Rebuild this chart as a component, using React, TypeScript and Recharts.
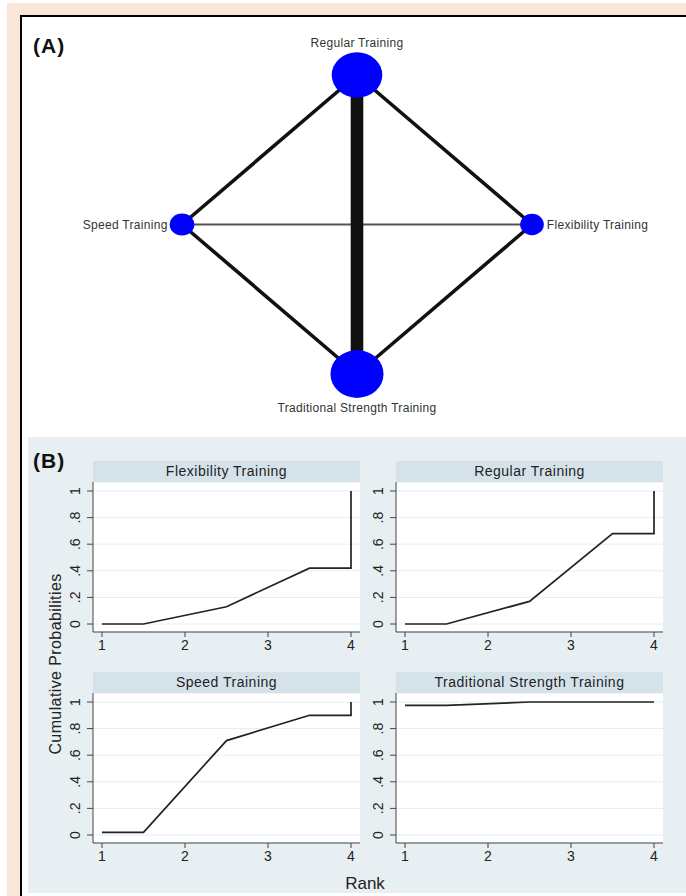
import React from "react";
import { ScatterChart, Scatter, XAxis, YAxis, LineChart, Line, CartesianGrid } from "recharts";

// ---- network (panel A) ----
const nodeNames = ["Regular Training", "Speed Training", "Flexibility Training", "Traditional Strength Training"];
const nodeX = [0, -1, 1, 0];
const nodeY = [1, 0, 0, -1];
const nodeParticipants = [160, 38, 35, 176];

// edges: index into nodeNames, number of studies
const edgeFrom = [1, 0, 0, 1, 2, 0];
const edgeTo = [2, 1, 2, 3, 3, 3];
const edgeStudies = [1, 2, 2, 2, 2, 7];

// ---- rankograms (panel B) ----
const rankPoints = [1, 1.5, 2.5, 3.5, 4, 4];
const flexibility = [0, 0, 0.13, 0.42, 0.42, 1];
const regular = [0, 0, 0.17, 0.68, 0.68, 1];
const speed = [0.02, 0.02, 0.71, 0.9, 0.9, 1];
const traditional = [0.975, 0.975, 1, 1, 1, 1];
const xTicks = [1, 2, 3, 4];
const yTicks = [0, 0.2, 0.4, 0.6, 0.8, 1];

const FONT = "'Liberation Sans', Arial, sans-serif";

const labelSide: Record<string, string> = {
  "Regular Training": "top",
  "Speed Training": "left",
  "Flexibility Training": "right",
  "Traditional Strength Training": "bottom",
};

const nodes = nodeNames.map((name, i) => ({ name, x: nodeX[i], y: nodeY[i], n: nodeParticipants[i] }));

const NodeShape = (props: any) => {
  const { cx, cy, payload } = props;
  const r = Math.sqrt(payload.n) * 2;
  const ry = r * 0.9;
  const side = labelSide[payload.name];
  let label = null;
  const txt = { fontSize: 12, fill: "#333", fontFamily: FONT, letterSpacing: 0.3 };
  if (side === "top") label = <text x={cx} y={cy - ry - 5} textAnchor="middle" {...txt}>{payload.name}</text>;
  if (side === "bottom") label = <text x={cx} y={cy + ry + 14} textAnchor="middle" {...txt}>{payload.name}</text>;
  if (side === "left") label = <text x={cx - r - 2} y={cy + 4} textAnchor="end" {...txt}>{payload.name}</text>;
  if (side === "right") label = <text x={cx + r + 3} y={cy + 4} textAnchor="start" {...txt}>{payload.name}</text>;
  return (
    <g>
      <ellipse cx={cx} cy={cy} rx={r} ry={ry} fill="#0000ff" />
      {label}
    </g>
  );
};

const NetworkPlot = () => (
  <ScatterChart width={686} height={432} margin={{ top: 75, right: 154, bottom: 58, left: 182 }}>
    <XAxis type="number" dataKey="x" domain={[-1, 1]} hide height={0} />
    <YAxis type="number" dataKey="y" domain={[-1, 1]} hide width={0} />
    {edgeFrom.map((f, i) => (
      <Scatter
        key={`edge-${i}`}
        data={[nodes[f], nodes[edgeTo[i]]]}
        line={{ stroke: edgeStudies[i] === 1 ? "#555" : "#111", strokeWidth: edgeStudies[i] * 1.8 }}
        shape={() => <g />}
        isAnimationActive={false}
      />
    ))}
    <Scatter data={nodes} shape={NodeShape} isAnimationActive={false} />
  </ScatterChart>
);

const fmtY = (v: number) => (v === 0 ? "0" : v === 1 ? "1" : String(v.toFixed(1)).replace(/^0/, ""));

const YTick = (props: any) => {
  const { x, y, payload } = props;
  const bx = x - 5;
  return (
    <text x={bx} y={y} transform={`rotate(-90 ${bx} ${y})`} textAnchor="middle" fontSize={14} fill="#222" fontFamily={FONT}>
      {fmtY(payload.value)}
    </text>
  );
};

const Rankogram = ({ title, values, left, top }: { title: string; values: number[]; left: number; top: number }) => {
  const data = rankPoints.map((r, i) => ({ rank: r, p: values[i] }));
  return (
    <>
      <div
        style={{
          position: "absolute", left: left + 33, top: top - 21, width: 267, height: 21,
          background: "#d6e2ea", color: "#222", fontFamily: FONT, fontSize: 14, letterSpacing: 0.5,
          textAlign: "center", lineHeight: "21px",
        }}
      >
        {title}
      </div>
      <div style={{ position: "absolute", left, top }}>
        <LineChart width={300} height={180} data={data} margin={{ top: 0, right: 0, bottom: 0, left: 0 }}>
          <CartesianGrid vertical={false} stroke="#e6eef1" fill="#ffffff" />
          <XAxis
            type="number" dataKey="rank" domain={[1, 4]} ticks={xTicks} height={30}
            padding={{ left: 9, right: 9 }} tickSize={5} tickMargin={3}
            stroke="#444" tick={{ fontSize: 14, fill: "#222", fontFamily: FONT }}
          />
          <YAxis
            type="number" domain={[0, 1]} ticks={yTicks} width={33}
            padding={{ top: 9, bottom: 8 }} tickSize={6} tick={<YTick />} stroke="#444"
          />
          <Line type="linear" dataKey="p" stroke="#222" strokeWidth={1.7} dot={false} isAnimationActive={false} />
        </LineChart>
      </div>
    </>
  );
};

export default function App() {
  return (
    <div style={{ position: "absolute", left: 0, top: 0, width: 686, height: 896, background: "#fff", overflow: "hidden" }}>
      <div style={{ position: "absolute", left: 7, top: 3, width: 679, height: 893, background: "#fbe7d9" }} />
      <div
        style={{
          position: "absolute", left: 20, top: 15, width: 666, height: 881, background: "#fff",
          borderLeft: "2px solid #000", borderTop: "2px solid #000", boxSizing: "border-box",
        }}
      />
      <div style={{ position: "absolute", left: 33, top: 34, fontFamily: FONT, fontWeight: "bold", fontSize: 21, letterSpacing: 1, color: "#111" }}>(A)</div>
      <div style={{ position: "absolute", left: 0, top: 0 }}>
        <NetworkPlot />
      </div>

      <div style={{ position: "absolute", left: 28, top: 437, width: 658, height: 456, background: "#e8eff2" }} />
      <div style={{ position: "absolute", left: 33, top: 449, fontFamily: FONT, fontWeight: "bold", fontSize: 21, letterSpacing: 1, color: "#111" }}>(B)</div>

      <Rankogram title="Flexibility Training" values={flexibility} left={60} top={482} />
      <Rankogram title="Regular Training" values={regular} left={363} top={482} />
      <Rankogram title="Speed Training" values={speed} left={60} top={693} />
      <Rankogram title="Traditional Strength Training" values={traditional} left={363} top={693} />

      <div
        style={{
          position: "absolute", left: 56, top: 664, fontFamily: FONT, fontSize: 16, letterSpacing: 0.4, color: "#222",
          transform: "translate(-50%, -50%) rotate(-90deg)", whiteSpace: "nowrap",
        }}
      >
        Cumulative Probabilities
      </div>
      <div
        style={{
          position: "absolute", left: 365, top: 884, fontFamily: FONT, fontSize: 17, color: "#222",
          transform: "translate(-50%, -50%)", whiteSpace: "nowrap",
        }}
      >
        Rank
      </div>
    </div>
  );
}
